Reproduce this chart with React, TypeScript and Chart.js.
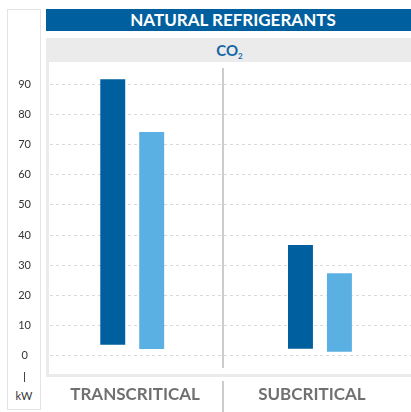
import React, { useEffect, useRef } from 'react';
import { Chart, registerables } from 'chart.js';

Chart.register(...registerables);

// ---- data ----
const categories = ['TRANSCRITICAL', 'SUBCRITICAL'];
const categoryPositions = [0, 1];
const darkLow = [3.7, 2.4];
const darkHigh = [91.6, 36.7];
const lightLow = [2.3, 1.4];
const lightHigh = [74.1, 27.4];
const yTicks = [0, 10, 20, 30, 40, 50, 60, 70, 80, 90];

// ---- layout (axis ranges / label placement) ----
const yMin = -4;
const yMax = 95.3;
const xMin = -0.438;
const xMax = 1.485;
const labelPositions = [0.015, 0.957];

const DARK = '#005f9e';
const LIGHT = '#5aafe3';
const FONT = 'Lato, "Open Sans", sans-serif';

export default function App() {
  const ref = useRef<HTMLCanvasElement | null>(null);

  useEffect(() => {
    if (!ref.current) return;
    const chart = new Chart(ref.current, {
      type: 'bar',
      data: {
        datasets: [
          {
            label: 'Series 1',
            data: categoryPositions.map((x, i) => ({ x, y: [darkLow[i], darkHigh[i]] })) as any,
            backgroundColor: DARK,
            borderWidth: 0,
            categoryPercentage: 0.415,
            barPercentage: 0.64,
          },
          {
            label: 'Series 2',
            data: categoryPositions.map((x, i) => ({ x, y: [lightLow[i], lightHigh[i]] })) as any,
            backgroundColor: LIGHT,
            borderWidth: 0,
            categoryPercentage: 0.415,
            barPercentage: 0.64,
          },
        ],
      },
      options: {
        animation: false,
        responsive: false,
        maintainAspectRatio: false,
        layout: { padding: { left: 0, right: 0, top: 68, bottom: 0 } },
        plugins: {
          legend: { display: false },
          tooltip: { enabled: false },
          title: { display: false },
        },
        scales: {
          x: {
            type: 'linear',
            offset: false,
            bounds: 'data',
            min: xMin,
            max: xMax,
            afterBuildTicks: (s: any) => {
              s.ticks = categoryPositions.map((v) => ({ value: v }));
            },
            afterFit: (s: any) => {
              s.height = 0;
            },
            grid: { display: false, drawTicks: false, offset: false },
            border: { display: false },
            ticks: { display: false },
          },
          xLabels: {
            type: 'linear',
            position: 'bottom',
            offset: false,
            bounds: 'data',
            min: xMin,
            max: xMax,
            afterBuildTicks: (s: any) => {
              s.ticks = labelPositions.map((v) => ({ value: v }));
            },
            afterFit: (s: any) => {
              s.height = 44;
            },
            grid: { display: false, drawTicks: false, offset: false },
            border: { display: false },
            ticks: {
              autoSkip: false,
              maxRotation: 0,
              padding: 16,
              color: '#707070',
              font: { family: FONT, size: 17, weight: 'bold' },
              callback: (_v: any, index: number) => categories[index] ?? '',
            },
          },
          y: {
            type: 'linear',
            min: yMin,
            max: yMax,
            afterBuildTicks: (s: any) => {
              s.ticks = yTicks.map((v) => ({ value: v }));
            },
            afterFit: (s: any) => {
              s.width = 50;
            },
            grid: { color: '#d9d9d9', lineWidth: 1, drawTicks: false },
            border: { display: false, dash: [3, 3] },
            ticks: {
              crossAlign: 'center',
              padding: 19,
              color: '#333333',
              font: { family: FONT, size: 11 },
            },
          },
        },
      } as any,
    });
    return () => chart.destroy();
  }, []);

  return (
    <div
      style={{
        position: 'fixed',
        left: 0,
        top: 0,
        width: 411,
        height: 412,
        background: '#ffffff',
        overflow: 'hidden',
        fontFamily: FONT,
      }}
    >
      {/* left axis box */}
      <div
        style={{
          position: 'absolute',
          left: 7,
          top: 9,
          width: 34,
          height: 401,
          border: '1px solid #e4e4e4',
          boxSizing: 'border-box',
        }}
      />
      {/* title bar */}
      <div
        style={{
          position: 'absolute',
          left: 46,
          top: 9,
          width: 365,
          height: 22,
          background: DARK,
          color: '#ffffff',
          fontWeight: 'bold',
          fontSize: 17,
          lineHeight: '22px',
          textAlign: 'center',
          paddingLeft: 9,
          boxSizing: 'border-box',
        }}
      >
        NATURAL REFRIGERANTS
      </div>
      {/* sub header */}
      <div
        style={{
          position: 'absolute',
          left: 46,
          top: 38,
          width: 365,
          height: 24,
          background: '#ebebeb',
          color: '#1466a8',
          fontWeight: 'bold',
          fontSize: 15,
          lineHeight: '25px',
          textAlign: 'center',
          paddingLeft: 2,
          boxSizing: 'border-box',
        }}
      >
        CO<span style={{ fontSize: 8, position: 'relative', top: 3 }}>2</span>
      </div>
      {/* plot frame */}
      <div
        style={{
          position: 'absolute',
          left: 46,
          top: 62,
          width: 380,
          height: 315,
          borderLeft: '3px solid #ebebeb',
          borderBottom: '3px solid #ebebeb',
          boxSizing: 'border-box',
        }}
      />
      {/* separators */}
      <div style={{ position: 'absolute', left: 222, top: 68, width: 1.5, height: 300, background: '#cccccc' }} />
      <div style={{ position: 'absolute', left: 222, top: 381, width: 1.5, height: 31, background: '#cccccc' }} />
      {/* unit */}
      <div style={{ position: 'absolute', left: 23.5, top: 372, width: 1.2, height: 10, background: '#444444' }} />
      <div
        style={{
          position: 'absolute',
          left: 7,
          width: 34,
          top: 388,
          textAlign: 'center',
          fontSize: 11,
          color: '#333333',
          lineHeight: '16px',
        }}
      >
        kW
      </div>
      <canvas
        ref={ref}
        width={411}
        height={412}
        style={{ position: 'absolute', left: 0, top: 0, width: 411, height: 412 }}
      />
    </div>
  );
}
